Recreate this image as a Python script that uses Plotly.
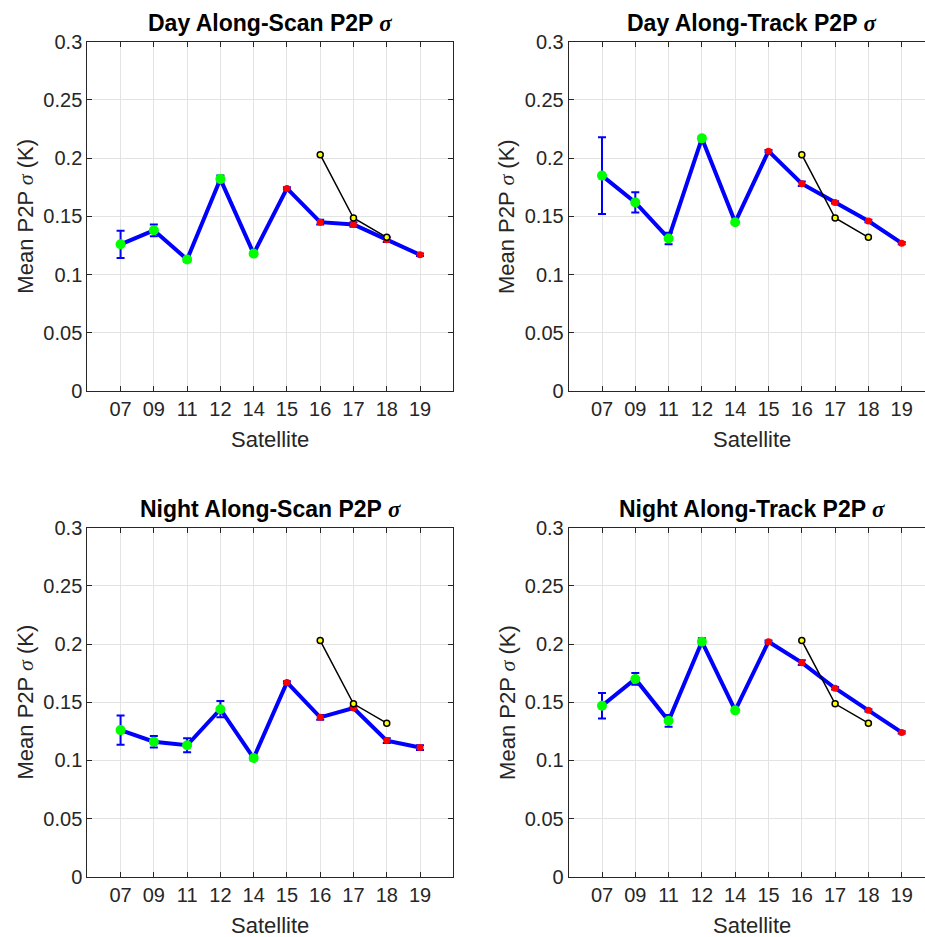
import plotly.graph_objects as go

# Satellite identifiers along the x axis
satellites = ["07", "09", "11", "12", "14", "15", "16", "17", "18", "19"]

# Mean point-to-point sigma (K) and its uncertainty, per panel
day_scan = [0.126, 0.138, 0.113, 0.182, 0.118, 0.174, 0.145, 0.143, 0.130, 0.117]
day_scan_err = [0.0117, 0.005, 0.002, 0.003, 0.001, 0.001, 0.002, 0.002, 0.002, 0.001]

day_track = [0.185, 0.162, 0.131, 0.217, 0.145, 0.206, 0.178, 0.162, 0.146, 0.127]
day_track_err = [0.033, 0.0086, 0.005, 0.002, 0.001, 0.001, 0.002, 0.001, 0.001, 0.001]

night_scan = [0.126, 0.116, 0.113, 0.144, 0.102, 0.167, 0.137, 0.145, 0.117, 0.111]
night_scan_err = [0.0126, 0.005, 0.006, 0.007, 0.002, 0.001, 0.002, 0.001, 0.002, 0.002]

night_track = [0.147, 0.170, 0.134, 0.202, 0.143, 0.202, 0.184, 0.162, 0.143, 0.124]
night_track_err = [0.011, 0.005, 0.005, 0.003, 0.001, 0.001, 0.002, 0.001, 0.001, 0.001]

# Reference curve shown for the newest satellites
ref_satellites = ["16", "17", "18"]
ref_values = [0.203, 0.1486, 0.132]

# Which satellites get green vs red markers
green_sats = ["07", "09", "11", "12", "14"]
red_sats = ["15", "16", "17", "18", "19"]

W, H = 925, 937
FONT = "Liberation Sans, Arial, Helvetica, sans-serif"
AXC = "#262626"
SIG = "<span style=\"font-family:'Liberation Serif', serif;font-style:italic\">σ</span>"

pos = {s: i + 1 for i, s in enumerate(satellites)}

panels = [
    ("Day Along-Scan P2P", day_scan, day_scan_err, (87.3, 453.3), (41.7, 391.0)),
    ("Day Along-Track P2P", day_track, day_track_err, (568.7, 935.0), (41.7, 391.0)),
    ("Night Along-Scan P2P", night_scan, night_scan_err, (87.3, 453.3), (527.7, 876.7)),
    ("Night Along-Track P2P", night_track, night_track_err, (568.7, 935.0), (527.7, 876.7)),
]

fig = go.Figure()
annotations = []
layout = {}

for k, (title, vals, errs, (x0, x1), (ytop, ybot)) in enumerate(panels):
    n = "" if k == 0 else str(k + 1)
    xa, ya = "x" + n, "y" + n
    # clip the axis box at the page edge while keeping the unit spacing
    x1c = min(x1, W)
    xmax = 11.0 * (x1c - x0) / (x1 - x0)
    xs = [pos[s] for s in satellites]

    fig.add_trace(go.Scatter(
        x=xs, y=vals, mode="lines", xaxis=xa, yaxis=ya,
        line=dict(color="#0000ff", width=4),
        error_y=dict(type="data", array=errs, color="#0000ff", thickness=2, width=4),
        showlegend=False, hoverinfo="skip"))
    fig.add_trace(go.Scatter(
        x=[pos[s] for s in green_sats], y=[vals[satellites.index(s)] for s in green_sats],
        mode="markers", xaxis=xa, yaxis=ya,
        marker=dict(color="#00ff00", size=10, line=dict(width=0)),
        showlegend=False))
    fig.add_trace(go.Scatter(
        x=[pos[s] for s in red_sats], y=[vals[satellites.index(s)] for s in red_sats],
        mode="markers", xaxis=xa, yaxis=ya,
        marker=dict(color="#ff0000", size=7, line=dict(width=0)),
        showlegend=False))
    fig.add_trace(go.Scatter(
        x=[pos[s] for s in ref_satellites], y=ref_values,
        mode="lines+markers", xaxis=xa, yaxis=ya,
        line=dict(color="black", width=1.5),
        marker=dict(color="#ffff00", size=6, line=dict(color="black", width=1.5)),
        showlegend=False))

    right_clipped = x1 > W
    layout["xaxis" + n] = dict(
        domain=[x0 / W, x1c / W], range=[0, xmax], anchor=ya, automargin=False,
        tickvals=xs, ticktext=satellites, ticks="inside", ticklen=5,
        tickcolor=AXC, showline=True, linecolor=AXC, linewidth=1, mirror="ticks",
        showgrid=True, gridcolor="#e3e3e3", gridwidth=1, zeroline=False,
        tickfont=dict(family=FONT, size=20, color=AXC), fixedrange=True)
    layout["yaxis" + n] = dict(
        domain=[1 - ybot / H, 1 - ytop / H], range=[0, 0.3], anchor=xa, automargin=False,
        tickvals=[0, 0.05, 0.1, 0.15, 0.2, 0.25, 0.3],
        ticktext=["0", "0.05", "0.1", "0.15", "0.2", "0.25", "0.3"],
        ticks="inside", ticklen=5, tickcolor=AXC,
        showline=True, linecolor=AXC, linewidth=1,
        mirror=False if right_clipped else "ticks",
        showgrid=True, gridcolor="#e3e3e3", gridwidth=1, zeroline=False,
        tickfont=dict(family=FONT, size=20, color=AXC), fixedrange=True)

    xc = (x0 + x1) / 2
    annotations.append(dict(
        text=f"<b>{title} {SIG}</b>", x=xc / W, y=1 - (ytop - 19) / H,
        xref="paper", yref="paper", showarrow=False, xanchor="center", yanchor="middle",
        font=dict(family=FONT, size=23, color="black")))
    annotations.append(dict(
        text="Satellite", x=((x0 + min(x1, 453.3 + (x0 - 87.3))) / 2) / W, y=1 - (ybot + 49) / H,
        xref="paper", yref="paper", showarrow=False, xanchor="center", yanchor="middle",
        font=dict(family=FONT, size=22, color=AXC)))
    annotations.append(dict(
        text=f"Mean P2P {SIG} (K)", x=(x0 - 62) / W, y=1 - ((ytop + ybot) / 2) / H,
        xref="paper", yref="paper", showarrow=False, textangle=-90,
        xanchor="center", yanchor="middle",
        font=dict(family=FONT, size=22, color=AXC)))

fig.update_layout(
    width=W, height=H, margin=dict(l=0, r=0, t=0, b=0, pad=0, autoexpand=False),
    paper_bgcolor="white", plot_bgcolor="white",
    font=dict(family=FONT, color=AXC),
    annotations=annotations, **layout)

fig.write_html("out.html", config={"displayModeBar": False},
               post_script="document.body.style.margin='0';")
